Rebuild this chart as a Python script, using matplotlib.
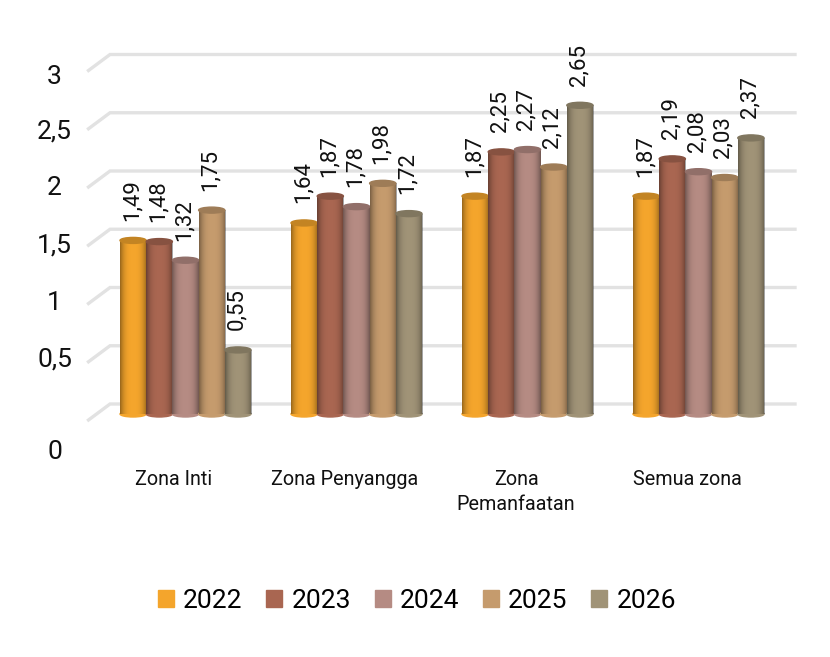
import numpy as np
import matplotlib
matplotlib.use('Agg')
import matplotlib.pyplot as plt
from matplotlib.patches import Ellipse, Patch
from matplotlib.colors import to_rgb

plt.rcParams['font.family'] = ['Roboto', 'DejaVu Sans']

zones = ['Zona Inti', 'Zona Penyangga', 'Zona\nPemanfaatan', 'Semua zona']
years = ['2022', '2023', '2024', '2025', '2026']
v2022 = [1.49, 1.64, 1.87, 1.87]
v2023 = [1.48, 1.87, 2.25, 2.19]
v2024 = [1.32, 1.78, 2.27, 2.08]
v2025 = [1.75, 1.98, 2.12, 2.03]
v2026 = [0.55, 1.72, 2.65, 2.37]
series = [v2022, v2023, v2024, v2025, v2026]
colors = ['#f4a52c', '#a96651', '#b58b83', '#c59b6d', '#a09377']
yticks = [0, 0.5, 1, 1.5, 2, 2.5, 3]
ylabels = ['0', '0,5', '1', '1,5', '2', '2,5', '3']
ylabel_shift = [-38, -4, -6, -6, -7, -9, -13]  # pixels, the 3d axis puts labels off the lines

fig = plt.figure(figsize=(8.3, 6.57), dpi=100)
ax = fig.add_axes([0, 0, 1, 1])
# one pixel per unit scale: group spacing 171px, one value unit 116.5px
px = 1 / 171
py = 1 / 116.5
ax.axis('off')

# back wall grid with the slanted floor piece
for t in yticks:
    back = t + 10 * py
    front = t - 6 * py
    ax.plot([-97 * px, -75.5 * px, 609.5 * px], [front, back, back],
            color='#e2e2e2', lw=2.4, solid_joinstyle='miter', zorder=1)

bw = 26.2 * px
shade = np.abs(np.linspace(-1, 1, 64))
for s, vals in enumerate(series):
    base = np.array(to_rgb(colors[s]))
    xs = np.arange(4) + (s - 2) * bw
    bars = ax.bar(xs, vals, bw, color=colors[s], zorder=3 + s)
    for x, v, b in zip(xs, vals, bars):
        # cylinder shading and the end caps
        img = np.zeros((1, 64, 4))
        img[0, :, 3] = shade ** 3 * 0.38
        im = ax.imshow(img, extent=(x - bw / 2, x + bw / 2, 0, v), aspect='auto', zorder=3.1 + s)
        im.set_clip_path(b)
        ax.add_patch(Ellipse((x, 0), bw, 6 * py, color=colors[s], zorder=3 + s))
        ax.add_patch(Ellipse((x, v), bw, 6 * py, color=tuple(base * 0.8), zorder=3.2 + s))
        ax.annotate(str(v).replace('.', ',').ljust(4, '0'), (x, v), xytext=(-1, 14), textcoords='offset points',
                    rotation=90, ha='center', va='bottom', fontsize=16, color='#111111',
                    zorder=20)

ax.set_xlim(-185.5 * px, (830 - 185.5) * px)
ax.set_ylim(-(657 - 414) * py, 414 * py)

for t, lab, sh in zip(yticks, ylabels, ylabel_shift):
    ax.annotate(lab, (-131 * px, t), xytext=(0, sh * 0.72), textcoords='offset points',
                ha='center', va='center', fontsize=19, color='#111111')

for i, z in enumerate(zones):
    ax.text(i - 11.5 * px, -56 * py, z, ha='center', va='top', fontsize=14.2, color='#111111',
            linespacing=1.4)

handles = [Patch(color=c, label=y) for c, y in zip(colors, years)]
ax.legend(handles=handles, loc='center', bbox_to_anchor=(417 / 830, 1 - 601 / 657), ncols=5,
          frameon=False, handlelength=0.6, handleheight=0.6, handletextpad=0.35,
          columnspacing=0.9, prop={'size': 19})

fig.savefig('out.png', dpi=100, facecolor='white')
